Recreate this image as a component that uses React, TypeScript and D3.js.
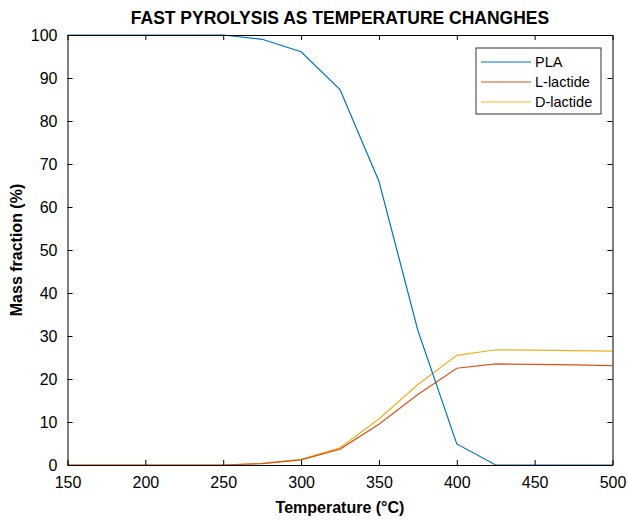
import React, { useEffect, useRef } from 'react';
import * as d3 from 'd3';

const temps = [150, 175, 200, 225, 250, 275, 300, 325, 350, 375, 400, 425, 450, 475, 500];
const pla = [100, 100, 100, 100, 100, 99, 96.1, 87.3, 66, 31.3, 4.9, 0, 0, 0, 0];
const lLactide = [0, 0, 0, 0, 0, 0.3, 1.2, 3.7, 9.5, 16.4, 22.5, 23.5, 23.4, 23.3, 23.1];
const dLactide = [0, 0, 0, 0, 0, 0.4, 1.3, 4.0, 10.7, 18.7, 25.5, 26.8, 26.7, 26.6, 26.5];
const seriesNames = ['PLA', 'L-lactide', 'D-lactide'];
const seriesColors = ['#0072BD', '#D95319', '#EDB120'];
const xTicks = [150, 200, 250, 300, 350, 400, 450, 500];
const yTicks = [0, 10, 20, 30, 40, 50, 60, 70, 80, 90, 100];

const App = () => {
  const ref = useRef<SVGSVGElement>(null);

  useEffect(() => {
    const svg = d3.select(ref.current);
    svg.selectAll('*').remove();

    const margin = { top: 35, right: 15.5, bottom: 55, left: 67.5 };
    const width = 628 - margin.left - margin.right;
    const height = 520 - margin.top - margin.bottom;
    const font = 'Liberation Sans, Arial, sans-serif';

    svg.append('rect').attr('width', 628).attr('height', 520).attr('fill', '#fff');

    const g = svg.append('g').attr('transform', `translate(${margin.left},${margin.top})`);

    const x = d3.scaleLinear().domain([150, 500]).range([0, width]);
    const y = d3.scaleLinear().domain([0, 100]).range([height, 0]);

    // lines
    const all = [pla, lLactide, dLactide];
    const line = d3.line<number>()
      .x((_, i) => x(temps[i]))
      .y(d => y(d));
    [2, 1, 0].forEach(k => {
      g.append('path')
        .datum(all[k])
        .attr('d', line)
        .attr('fill', 'none')
        .attr('stroke', seriesColors[k])
        .attr('stroke-width', 1.2);
    });

    // axes (MATLAB style box with inward ticks)
    const axB = g.append('g').attr('transform', `translate(0,${height})`)
      .call(d3.axisBottom(x).tickValues(xTicks).tickSizeInner(-5).tickSizeOuter(0).tickPadding(11));
    const axT = g.append('g')
      .call(d3.axisTop(x).tickValues(xTicks).tickSizeInner(-5).tickSizeOuter(0).tickFormat(() => ''));
    const axL = g.append('g')
      .call(d3.axisLeft(y).tickValues(yTicks).tickSizeInner(-5).tickSizeOuter(0).tickPadding(10));
    const axR = g.append('g').attr('transform', `translate(${width},0)`)
      .call(d3.axisRight(y).tickValues(yTicks).tickSizeInner(-5).tickSizeOuter(0).tickFormat(() => ''));
    [axB, axT, axL, axR].forEach(a => {
      a.selectAll('path').attr('stroke', '#000').attr('stroke-width', 1);
      a.selectAll('line').attr('stroke', '#000').attr('stroke-width', 1);
      a.selectAll('text').attr('font-family', font).attr('font-size', 16).attr('fill', '#000');
    });
    axB.selectAll('text').attr('dy', '0.75em');

    // title
    svg.append('text')
      .attr('x', margin.left + width / 2)
      .attr('y', 24)
      .attr('text-anchor', 'middle')
      .attr('font-family', font)
      .attr('font-weight', 'bold')
      .attr('font-size', 17.5)
      .text('FAST PYROLYSIS AS TEMPERATURE CHANGHES');

    // axis labels
    svg.append('text')
      .attr('x', margin.left + width / 2)
      .attr('y', 513)
      .attr('text-anchor', 'middle')
      .attr('font-family', font)
      .attr('font-weight', 'bold')
      .attr('font-size', 16)
      .text('Temperature (°C)');

    svg.append('text')
      .attr('transform', `translate(22,${margin.top + height / 2}) rotate(-90)`)
      .attr('text-anchor', 'middle')
      .attr('font-family', font)
      .attr('font-weight', 'bold')
      .attr('font-size', 16)
      .text('Mass fraction (%)');

    // legend
    const lg = svg.append('g').attr('transform', 'translate(476,48)');
    lg.append('rect')
      .attr('width', 125).attr('height', 66)
      .attr('fill', '#fff').attr('stroke', '#333').attr('stroke-width', 1);
    seriesNames.forEach((name, i) => {
      const cy = 14 + i * 20;
      lg.append('line')
        .attr('x1', 5).attr('x2', 55).attr('y1', cy).attr('y2', cy)
        .attr('stroke', seriesColors[i]).attr('stroke-width', 1.2);
      lg.append('text')
        .attr('x', 59).attr('y', cy).attr('dy', '0.35em')
        .attr('font-family', font).attr('font-size', 14.5)
        .text(name);
    });
  }, []);

  return <svg ref={ref} width={628} height={520} style={{ position: 'absolute', left: 0, top: 0 }} />;
};

export default App;
